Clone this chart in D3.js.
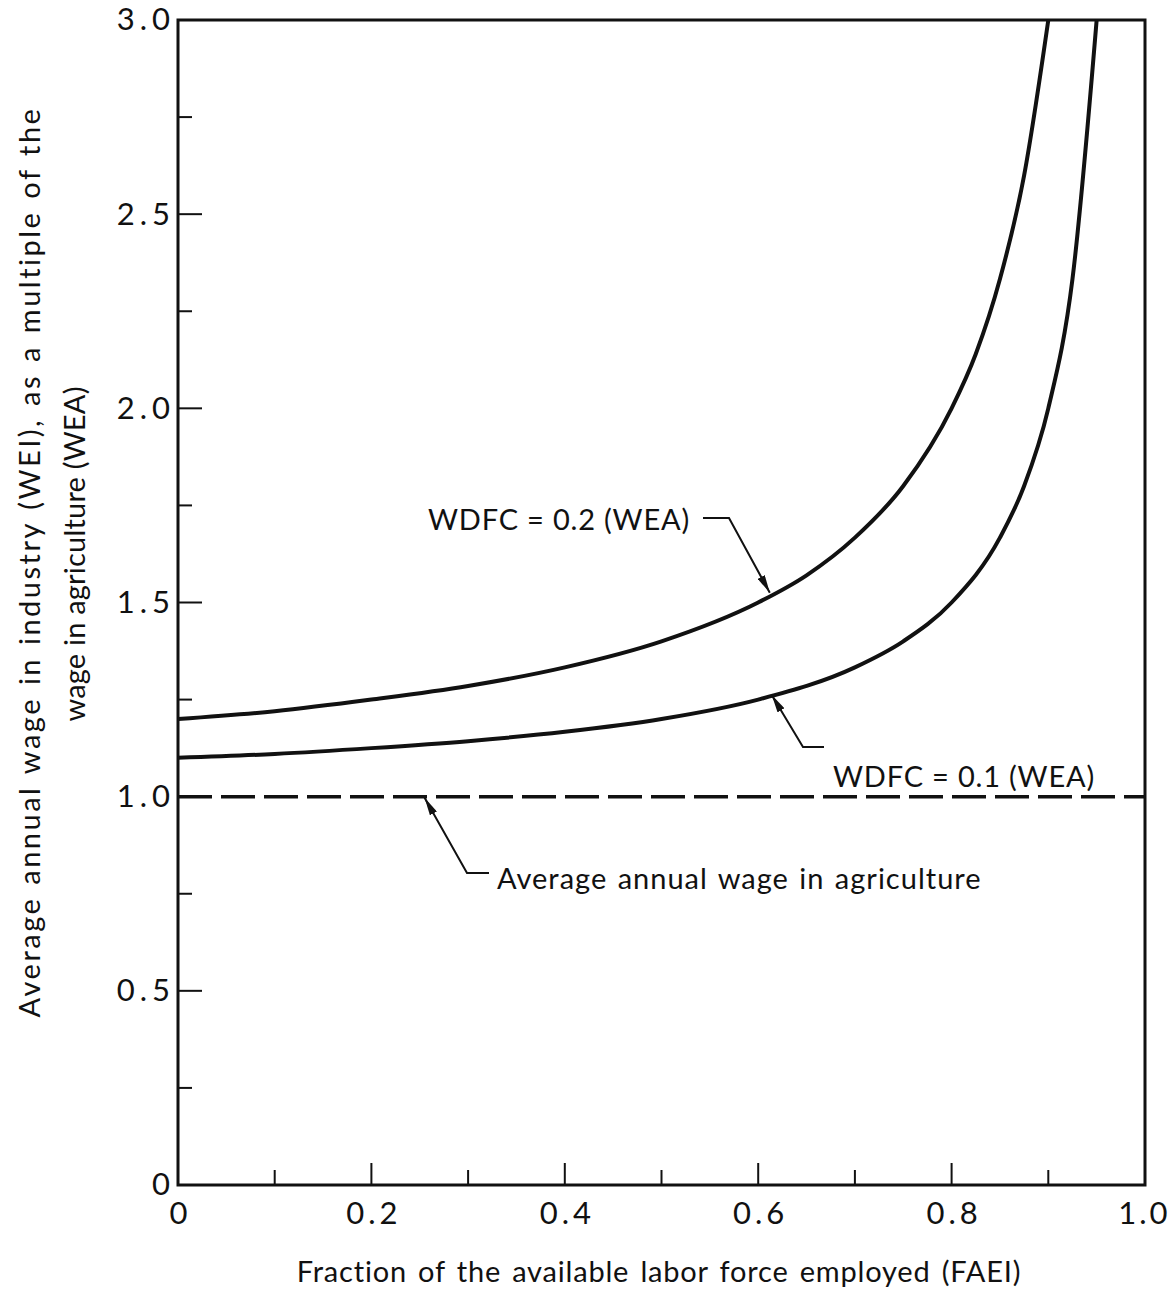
<!DOCTYPE html>
<html><head><meta charset="utf-8">
<script src="https://cdn.jsdelivr.net/npm/d3@7"></script>
<style>
body{margin:0;background:#fff;}
text{font-family:"Lato","Open Sans",sans-serif;fill:#111;}
</style></head>
<body><svg id="c" width="1173" height="1291"></svg>
<script>
// ---- data ----
const faeiUpper = [0, 0.1, 0.2, 0.3, 0.4, 0.5, 0.6, 0.65, 0.7, 0.75, 0.8, 0.825, 0.85, 0.875, 0.9];
const weiUpper  = [1.20, 1.22, 1.25, 1.285, 1.333, 1.40, 1.50, 1.57, 1.667, 1.80, 2.00, 2.14, 2.333, 2.60, 3.0];
const faeiLower = [0, 0.1, 0.2, 0.3, 0.4, 0.5, 0.6, 0.7, 0.75, 0.8, 0.85, 0.875, 0.9, 0.925, 0.95];
const weiLower  = [1.10, 1.11, 1.125, 1.143, 1.167, 1.20, 1.25, 1.333, 1.40, 1.50, 1.667, 1.80, 2.00, 2.333, 3.0];
const agricultureLevel = [1.0];
const xTickLabels = ["0", "0.2", "0.4", "0.6", "0.8", "1.0"];
const yTickLabels = ["0", "0.5", "1.0", "1.5", "2.0", "2.5", "3.0"];
const labelUpper = "WDFC = 0.2 (WEA)";
const labelLower = "WDFC = 0.1 (WEA)";
const labelAgri = "Average annual wage in agriculture";
const xTitle = "Fraction of the available labor force employed (FAEI)";
const yTitle = ["Average annual wage in industry (WEI), as a multiple of the", "wage in agriculture (WEA)"];

const svg = d3.select("#c");
const L = 178, R = 1145, T = 20, B = 1185;
const x = d3.scaleLinear().domain([0, 1]).range([L, R]);
const y = d3.scaleLinear().domain([0, 3]).range([B, T]);

svg.append("defs").append("marker")
  .attr("id", "arr").attr("viewBox", "0 0 18 8").attr("refX", 18).attr("refY", 4)
  .attr("markerWidth", 18).attr("markerHeight", 8).attr("markerUnits", "userSpaceOnUse")
  .attr("orient", "auto")
  .append("path").attr("d", "M0,0 L18,4 L0,8 Z").attr("fill", "#111");

// minor ticks
const g = svg.append("g");
d3.range(1, 10).forEach(i => {
  const v = i / 10;
  const len = (i % 2 === 0) ? 22 : 15;
  g.append("line").attr("x1", x(v)).attr("x2", x(v)).attr("y1", B).attr("y2", B - len)
    .attr("stroke", "#111").attr("stroke-width", 2);
});
d3.range(1, 12).forEach(i => {
  const v = i * 0.25;
  const len = (i % 2 === 0) ? 24 : 14;
  g.append("line").attr("x1", L).attr("x2", L + len).attr("y1", y(v)).attr("y2", y(v))
    .attr("stroke", "#111").attr("stroke-width", 2);
});

// axes via d3
const xAxis = d3.axisBottom(x).tickValues(xTickLabels.map(Number)).tickSize(0).tickPadding(14)
  .tickFormat((d, i) => xTickLabels[i]);
const gx = svg.append("g").attr("transform", `translate(0,${B})`).call(xAxis);
gx.select(".domain").remove();
gx.selectAll("text").attr("font-size", 31).attr("letter-spacing", 4).attr("dx", 2).attr("dy", "0.82em")
  .style("font-family", "Lato, 'Open Sans', sans-serif").attr("fill", "#111");
gx.selectAll("text").filter((d, i) => i === xTickLabels.length - 1)
  .attr("text-anchor", "end").attr("letter-spacing", 3).attr("dx", 25);

const yAxis = d3.axisLeft(y).tickValues(yTickLabels.map(Number)).tickSize(0).tickPadding(8)
  .tickFormat((d, i) => yTickLabels[i]);
const gy = svg.append("g").attr("transform", `translate(${L},0)`).call(yAxis);
gy.select(".domain").remove();
gy.selectAll("text").attr("font-size", 31).attr("letter-spacing", 5).attr("dx", 5)
  .style("font-family", "Lato, 'Open Sans', sans-serif").attr("fill", "#111");

// frame
svg.append("rect").attr("x", L).attr("y", T).attr("width", R - L).attr("height", B - T)
  .attr("fill", "none").attr("stroke", "#111").attr("stroke-width", 3);

// agriculture dashed line
svg.append("line").attr("x1", L).attr("x2", R)
  .attr("y1", y(agricultureLevel[0])).attr("y2", y(agricultureLevel[0]))
  .attr("stroke", "#111").attr("stroke-width", 3.5).attr("stroke-dasharray", "34 9");

// curves
const line = d3.line().x(d => x(d[0])).y(d => y(d[1])).curve(d3.curveMonotoneX);
[[faeiUpper, weiUpper], [faeiLower, weiLower]].forEach(([xs, ys]) => {
  svg.append("path").datum(xs.map((v, i) => [v, ys[i]])).attr("d", line)
    .attr("fill", "none").attr("stroke", "#111").attr("stroke-width", 4);
});

// annotations
function leader(pts) {
  svg.append("path").attr("d", d3.line()(pts)).attr("fill", "none")
    .attr("stroke", "#111").attr("stroke-width", 2).attr("marker-end", "url(#arr)");
}
svg.append("text").attr("x", 428).attr("y", 530).attr("font-size", 29).attr("letter-spacing", 0.8).text(labelUpper);
leader([[703, 518], [729, 518], [x(0.612), y(1.525)]]);

svg.append("text").attr("x", 833).attr("y", 787).attr("font-size", 29).attr("letter-spacing", 0.8).text(labelLower);
leader([[824, 747], [803, 747], [x(0.614), y(1.262)]]);

svg.append("text").attr("x", 497).attr("y", 889).attr("font-size", 29).attr("letter-spacing", 1)
  .attr("word-spacing", 2).text(labelAgri);
leader([[489, 873], [467, 873], [x(0.255), y(agricultureLevel[0]) + 1]]);

// titles
svg.append("text").attr("x", 659).attr("y", 1282).attr("text-anchor", "middle")
  .attr("font-size", 29).attr("letter-spacing", 0.8).attr("word-spacing", 3).text(xTitle);
const yt = svg.append("text").attr("transform", "translate(0,562) rotate(-90)").attr("text-anchor", "middle")
  .attr("font-size", 29);
yt.append("tspan").attr("x", 0).attr("y", 40).attr("letter-spacing", 2.5).attr("word-spacing", 2).text(yTitle[0]);
yt.append("tspan").attr("x", 8).attr("y", 85).attr("letter-spacing", 0.2).text(yTitle[1]);
</script></body></html>
